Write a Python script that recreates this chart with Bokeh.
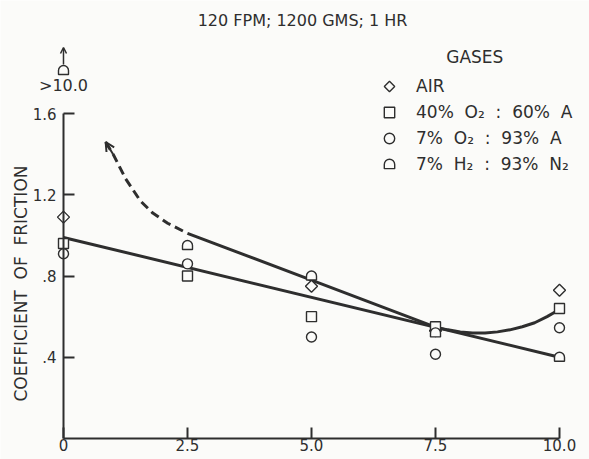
import numpy as np
from bokeh.plotting import figure
from bokeh.models import Range1d, FixedTicker, Legend, LegendItem, Label, Arrow, OpenHead, CustomJS
from bokeh.embed import file_html
from bokeh.resources import INLINE

# ---------------- data ----------------
title_text = "120 FPM; 1200 GMS; 1 HR"
y_label_text = "COEFFICIENT\u00a0 OF\u00a0 FRICTION"
x_ticks = [0, 2.5, 5, 7.5, 10]
x_tick_labels = ["0", "2.5", "5.0", "7.5", "10.0"]
y_ticks = [0.4, 0.8, 1.2, 1.6]
y_tick_labels = [".4", ".8", "1.2", "1.6"]

air_x = [0, 5, 7.5, 10]
air_y = [1.09, 0.75, 0.53, 0.73]
o2_40_x = [0, 2.5, 5, 7.5, 10]
o2_40_y = [0.96, 0.80, 0.60, 0.55, 0.64]
o2_7_x = [0, 2.5, 5, 7.5, 10]
o2_7_y = [0.91, 0.86, 0.50, 0.415, 0.545]
h2_x = [2.5, 5, 7.5, 10]
h2_y = [0.95, 0.80, 0.52, 0.40]
h2_offscale_x = 0
h2_offscale_text = ">10.0"

lower_x = [0, 10]
lower_y = [0.99, 0.40]
upper_x = [2.5, 5.0, 7.5, 7.75, 8.0, 8.25, 8.5, 8.75, 9.0, 9.25, 9.5, 9.75, 10.0]
upper_y = [1.01, 0.78, 0.548, 0.535, 0.525, 0.52, 0.52, 0.525, 0.535, 0.55, 0.57, 0.60, 0.635]
dash_x = [0.85, 1.0, 1.25, 1.55, 1.8, 2.1, 2.5]
dash_y = [1.46, 1.40, 1.28, 1.17, 1.11, 1.06, 1.01]

legend_title = "GASES"
legend_labels = ["AIR", "40%\u00a0 O\u2082\u00a0 :\u00a0 60%\u00a0 A",
                 "7%\u00a0 O\u2082\u00a0 :\u00a0 93%\u00a0 A", "7%\u00a0 H\u2082\u00a0 :\u00a0 93%\u00a0 N\u2082"]

# ---------------- style ----------------
INK = "#2e2e2e"
BG = "#fbfbf9"
FONT = "DejaVu Sans"

DOME = CustomJS(code="""
export default (args, obj, {ctx, i, r, visuals}) => {
  ctx.beginPath()
  ctx.moveTo(-r, 0.8*r)
  ctx.lineTo(-r, 0)
  ctx.arc(0, 0, r, Math.PI, 2*Math.PI, false)
  ctx.lineTo(r, 0.8*r)
  ctx.closePath()
  visuals.fill.apply(ctx, i)
  visuals.line.apply(ctx, i)
}
""")
DIAMOND = CustomJS(code="""
export default (args, obj, {ctx, i, r, visuals}) => {
  ctx.beginPath()
  ctx.moveTo(0, -r)
  ctx.lineTo(r, 0)
  ctx.lineTo(0, r)
  ctx.lineTo(-r, 0)
  ctx.closePath()
  visuals.fill.apply(ctx, i)
  visuals.line.apply(ctx, i)
}
""")
DEFS = {"@dome": DOME, "@diam": DIAMOND}

p = figure(width=589, height=459, x_range=Range1d(-1.270, 10.605), y_range=Range1d(-0.1034, 2.1566),
           output_backend="svg", toolbar_location=None,
           min_border_left=0, min_border_right=0, min_border_top=0, min_border_bottom=0)
p.background_fill_color = BG
p.border_fill_color = BG
p.outline_line_color = None
p.grid.visible = False

for ax in (p.xaxis[0], p.yaxis[0]):
    ax.fixed_location = 0
    ax.axis_line_color = INK
    ax.axis_line_width = 2
    ax.major_tick_line_color = INK
    ax.major_tick_line_width = 2
    ax.major_tick_out = 0
    ax.major_tick_in = 11
    ax.minor_tick_line_color = None
    ax.major_label_text_font = FONT
    ax.major_label_text_font_size = "15px"
    ax.major_label_text_color = INK

p.xaxis.bounds = (0, 10)
p.xaxis.ticker = FixedTicker(ticks=x_ticks)
p.xaxis.major_label_overrides = dict(zip(x_ticks, x_tick_labels))
p.xaxis.major_label_standoff = 1
p.yaxis.bounds = (0, 1.6)
p.yaxis.ticker = FixedTicker(ticks=y_ticks)
p.yaxis.major_label_overrides = dict(zip(y_ticks, y_tick_labels))
p.yaxis.major_label_standoff = 7

# fitted curves
p.line(lower_x, lower_y, line_color=INK, line_width=3)
p.line(upper_x, upper_y, line_color=INK, line_width=3)
p.line(dash_x, dash_y, line_color=INK, line_width=3, line_dash="9 5")
p.add_layout(Arrow(end=OpenHead(size=9, line_color=INK, line_width=2), line_color=INK, line_width=2,
                   x_start=dash_x[1], y_start=dash_y[1], x_end=dash_x[0], y_end=dash_y[0]))

# data points
mk = dict(line_color=INK, line_width=1.4, fill_color=BG)
r_air = p.scatter(air_x, air_y, marker="@diam", defs=DEFS, size=12, **mk)
r_40 = p.scatter(o2_40_x, o2_40_y, marker="square", size=10, **mk)
r_7 = p.scatter(o2_7_x, o2_7_y, marker="circle", size=10, **mk)
r_h2 = p.scatter(h2_x, h2_y, marker="@dome", defs=DEFS, size=10, **mk)

# off-scale H2 point
p.scatter([h2_offscale_x], [1.812], marker="@dome", defs=DEFS, size=10, **mk)
p.add_layout(Arrow(end=OpenHead(size=6, line_color=INK, line_width=1.5), line_color=INK, line_width=1.5,
                   x_start=h2_offscale_x, y_start=1.841, x_end=h2_offscale_x, y_end=1.925))
p.add_layout(Label(x=h2_offscale_x, y=1.738, text=h2_offscale_text, text_align="center",
                   text_baseline="middle", text_font=FONT, text_font_size="16px", text_color=INK))

# title and y label
p.add_layout(Label(x=4.82, y=2.058, text=title_text, text_align="center", text_baseline="middle",
                   text_font=FONT, text_font_size="16px", text_color=INK))
p.add_layout(Label(x=-0.85, y=0.763, text=y_label_text, angle=np.pi / 2, text_align="center",
                   text_baseline="middle", text_font=FONT, text_font_size="17px", text_color=INK))

legend = Legend(items=[LegendItem(label=l, renderers=[r]) for l, r in
                       zip(legend_labels, [r_air, r_40, r_7, r_h2])],
                title="\u00a0" * 13 + legend_title, location=(376, 282),
                label_text_font=FONT, label_text_font_size="17px", label_text_color=INK,
                title_text_font=FONT, title_text_font_size="17px", title_text_font_style="normal",
                title_text_color=INK, title_standoff=6,
                glyph_width=26, glyph_height=26, label_standoff=14, spacing=0, padding=0, margin=0,
                border_line_color=None, background_fill_alpha=0)
p.add_layout(legend)

open("out.html", "w").write(file_html(p, INLINE))
